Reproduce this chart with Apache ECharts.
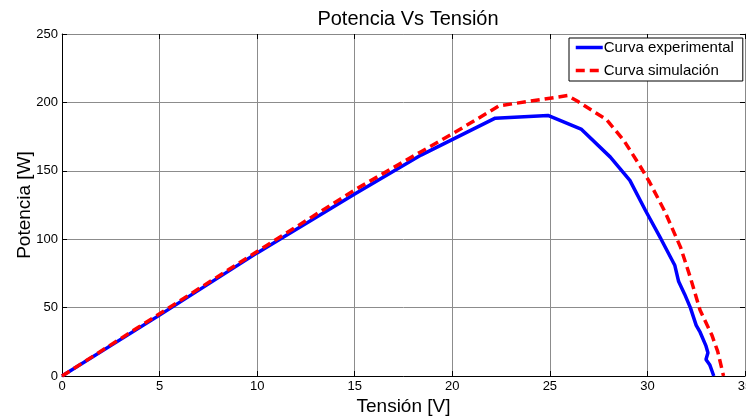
<!DOCTYPE html>
<html>
<head>
<meta charset="UTF-8">
<title>Potencia Vs Tensión</title>
<script src="https://cdn.jsdelivr.net/npm/echarts@6/dist/echarts.min.js"></script>
<style>
  html, body { margin: 0; padding: 0; background: #fff; }
  #main { width: 746px; height: 417px; }
</style>
</head>
<body>
<div id="main"></div>
<script>
var FONT = 'Liberation Sans, Arial, sans-serif';

// Curva experimental: tensión [V] y potencia [W]
var expV = [0, 5, 10, 15, 18.4, 22.2, 24.9, 26.6, 28.1, 29.1, 29.9, 30.7, 31.4, 31.6, 31.9, 32.2, 32.5, 32.7, 33.0, 33.1, 33.0, 33.2, 33.3, 33.4];
var expP = [0, 44.5, 90, 133, 161.5, 188.5, 190.5, 180.5, 160, 143, 121, 100, 81, 69, 60, 50, 37, 32, 22, 17, 12, 8, 4, 0];

// Curva simulación
var simV = [0, 5, 10, 15, 18.4, 20, 22.4, 25.9, 26.4, 27.9, 28.8, 29.6, 30.1, 30.9, 31.7, 32.2, 32.7, 33.3, 33.6, 33.9];
var simP = [0, 45.5, 91, 136, 164, 177, 197.5, 205, 201, 187.5, 172, 154, 142, 120, 94, 72, 48, 30, 18, 0];

var xTicks = [0, 35, 5];   // min, max, paso
var yTicks = [0, 250, 50];

function pairs(xs, ys) {
  return xs.map(function (x, i) { return [x, ys[i]]; });
}

var chart = echarts.init(document.getElementById('main'));

var tickStyle = { show: true, inside: true, length: 5, lineStyle: { color: '#000' } };
var gridStyle = { show: true, lineStyle: { color: '#8c8c8c', width: 1 } };
var labelStyle = { color: '#000', fontSize: 13, fontFamily: FONT };

chart.setOption({
  animation: false,
  backgroundColor: '#fff',
  title: {
    text: 'Potencia Vs Tensión',
    left: 403, textAlign: 'center', top: 4,
    textStyle: { color: '#000', fontSize: 20, fontWeight: 'normal', fontFamily: FONT }
  },
  legend: {
    left: 569, top: 38,
    orient: 'vertical',
    backgroundColor: '#fff',
    borderColor: '#000', borderWidth: 1,
    padding: [2, 9, 3, 5],
    itemWidth: 27, itemHeight: 14, itemGap: 8,
    itemStyle: { opacity: 0 },
    lineStyle: { width: 3.5 },
    textStyle: { color: '#000', fontSize: 15, fontFamily: FONT, padding: [0, 0, 0, -4] },
    data: ['Curva experimental', 'Curva simulación']
  },
  grid: { left: 62, right: 1, top: 34, bottom: 41, containLabel: false, outerBoundsMode: 'none' },
  xAxis: [{
    type: 'value', min: xTicks[0], max: xTicks[1], interval: xTicks[2],
    name: 'Tensión [V]', nameLocation: 'middle', nameGap: 21, nameMoveOverlap: false,
    nameTextStyle: { color: '#000', fontSize: 19, fontFamily: FONT },
    axisLine: { show: true, onZero: false, lineStyle: { color: '#000' } },
    axisTick: tickStyle,
    axisLabel: Object.assign({ margin: 4 }, labelStyle),
    splitLine: gridStyle
  }, {
    type: 'value', position: 'top', min: xTicks[0], max: xTicks[1], interval: xTicks[2],
    axisLine: { show: true, onZero: false, lineStyle: { color: '#888' } },
    axisTick: tickStyle,
    axisLabel: { show: false },
    splitLine: { show: false }
  }],
  yAxis: [{
    type: 'value', min: yTicks[0], max: yTicks[1], interval: yTicks[2],
    name: 'Potencia [W]', nameLocation: 'middle', nameGap: 28, nameMoveOverlap: false,
    nameTextStyle: { color: '#000', fontSize: 19, fontFamily: FONT },
    axisLine: { show: true, onZero: false, lineStyle: { color: '#000' } },
    axisTick: tickStyle,
    axisLabel: Object.assign({ margin: 4 }, labelStyle),
    splitLine: gridStyle
  }, {
    type: 'value', position: 'right', min: yTicks[0], max: yTicks[1], interval: yTicks[2],
    axisLine: { show: true, onZero: false, lineStyle: { color: '#888' } },
    axisTick: tickStyle,
    axisLabel: { show: false },
    splitLine: { show: false }
  }],
  series: [{
    name: 'Curva experimental',
    type: 'line',
    symbol: 'none',
    color: '#0000ff',
    lineStyle: { color: '#0000ff', width: 3.5 },
    data: pairs(expV, expP)
  }, {
    name: 'Curva simulación',
    type: 'line',
    symbol: 'none',
    color: '#ff0000',
    lineStyle: { color: '#ff0000', width: 3.5, type: [9, 5] },
    data: pairs(simV, simP)
  }]
});
</script>
</body>
</html>
